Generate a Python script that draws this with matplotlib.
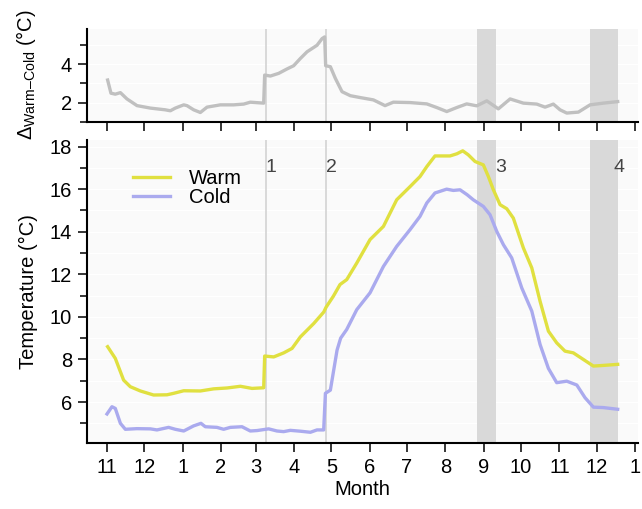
"""Warm vs cold temperature series with the Warm-Cold difference panel on top."""
import numpy as np
import matplotlib; matplotlib.use("Agg"); import matplotlib.pyplot as plt
from matplotlib.ticker import MultipleLocator

plt.rcParams["font.family"] = ["Liberation Sans", "DejaVu Sans"]
plt.rcParams["mathtext.fontset"] = "custom"; plt.rcParams["mathtext.rm"] = "Liberation Sans"

# x = days since 1 Nov; ticks at the first of each month
month_starts = [0, 30, 61, 92, 120, 151, 181, 212, 242, 273, 304, 334, 365, 395, 426]
month_labels = ["11", "12", "1", "2", "3", "4", "5", "6", "7", "8", "9", "10", "11", "12", "1"]

warm_day = [0.5, 6.7, 13.4, 18.8, 26.9, 37.6, 48.4, 53.8, 61.9, 75.3, 86.1, 96.8, 107.6, 117, 126.4,
            127.2, 134.5, 142.6, 149.3, 156, 166.8, 174.9, 176.7, 182.6, 188, 193.4, 201.5, 212.2, 223,
            233.7, 244.5, 252.5, 258, 264.6, 276.7, 282.2, 287, 291.5, 296.9, 303.6, 307.7, 311.7, 317.1,
            322.5, 327.8, 335.9, 342.7, 349.4, 356.1, 362.8, 369.5, 376.2, 384.3, 392.4, 400.4, 412]
warm_temp = [8.6, 8.05, 7.03, 6.72, 6.52, 6.33, 6.34, 6.41, 6.53, 6.52, 6.62, 6.66, 6.74, 6.64, 6.67,
             8.16, 8.12, 8.31, 8.52, 9.06, 9.69, 10.23, 10.45, 10.97, 11.52, 11.75, 12.53, 13.63, 14.25,
             15.5, 16.12, 16.59, 17.06, 17.56, 17.56, 17.66, 17.8, 17.61, 17.3, 17.14, 16.59, 15.97, 15.27,
             15.08, 14.64, 13.24, 12.3, 10.73, 9.33, 8.78, 8.39, 8.31, 8.0, 7.69, 7.72, 7.77]

cold_day = [0, 4, 6.7, 10.8, 14.8, 24.2, 35, 40.3, 49.7, 55.1, 61.9, 69.9, 75.8, 79.3, 88.7, 94.1, 99.5,
            108.9, 115.6, 121, 130.4, 137.1, 142.5, 147.9, 156, 164.1, 169.4, 174.8, 176.2, 180.2, 185.6,
            188.5, 193.4, 201.5, 212.2, 223, 233.7, 244.5, 252.5, 258, 264.6, 274, 279.4, 284.8, 290.5,
            295.5, 303.6, 309, 314.4, 319.8, 326.5, 334.6, 342.7, 349.4, 356.1, 362.8, 370.9, 379, 385.7,
            392.4, 400.4, 412]
cold_temp = [5.44, 5.78, 5.7, 5.0, 4.72, 4.75, 4.74, 4.69, 4.81, 4.72, 4.64, 4.88, 5.0, 4.84, 4.81, 4.72, 4.81,
             4.84, 4.64, 4.66, 4.74, 4.64, 4.61, 4.67, 4.63, 4.58, 4.69, 4.69, 6.41, 6.56, 8.44,
             9.0, 9.41, 10.34, 11.13, 12.37, 13.31, 14.1, 14.72, 15.35, 15.82, 16.0, 15.94, 15.97, 15.74,
             15.5, 15.19, 14.8, 14.02, 13.39, 12.77, 11.36, 10.27, 8.7, 7.58, 6.91, 6.98, 6.8, 6.2,
             5.76, 5.74, 5.66]

diff_day = [0.5, 3.2, 6.7, 10.8, 16.1, 24.2, 35, 47, 51.1, 55.1, 61.9, 64.5, 69.9, 75.3, 80.7, 91.4, 102.2,
            110.3, 115.6, 126.4, 127.2, 131.8, 138.5, 145.2, 150.6, 156, 161.4, 169.4, 173.5, 175.6, 176.4,
            180.2, 184.2, 189.6, 196.3, 204.4, 214.9, 224.3, 231, 244.5, 258, 266, 274.1, 282.2, 290.2,
            298.3, 306.4, 315.7, 325.2, 335.9, 346.7, 353.4, 360.1, 365.5, 370.9, 380.3, 389.7, 400.4, 412]
diff_val = [3.18, 2.49, 2.44, 2.52, 2.19, 1.84, 1.71, 1.62, 1.57, 1.71, 1.88, 1.84, 1.62, 1.48, 1.76, 1.88, 1.88,
            1.92, 2.02, 1.97, 3.44, 3.39, 3.53, 3.76, 3.93, 4.31, 4.66, 5.0, 5.35, 5.44, 3.93,
            3.88, 3.27, 2.57, 2.36, 2.26, 2.14, 1.84, 2.02, 2.0, 1.93, 1.74, 1.53, 1.74, 1.93,
            1.83, 2.09, 1.67, 2.19, 1.97, 1.92, 1.76, 1.92, 1.62, 1.45, 1.5, 1.88, 1.97, 2.05]

event_lines = [127.9, 176.7]          # events 1, 2
event_bands = [(298.3, 313.9), (389.7, 412.1)]   # events 3, 4
event_labels = ["1", "2", "3", "4"]
label_x = [127.9, 176.7, 313.0, 408.3]

WARM, COLD, GREY = "#e0e040", "#aaaaee", "#c0c0c0"
fig = plt.figure(figsize=(6.42, 5.09), dpi=100)
axt = fig.add_axes([0.135, 0.761, 0.859, 0.183])
axb = fig.add_axes([0.135, 0.129, 0.859, 0.596])

for ax in (axt, axb):
    ax.set_facecolor("#fafafa"); ax.set_axisbelow(True)
    for x in event_lines: ax.axvline(x, color="#d3d3d3", lw=1.2, zorder=1)
    for a, b in event_bands: ax.axvspan(a, b, color="#d9d9d9", lw=0, zorder=1)
    ax.yaxis.set_minor_locator(MultipleLocator(1))
    ax.grid(True, which="both", axis="y", color="white", lw=1)
    ax.set_xlim(-16.4, 428.5); ax.set_xticks(month_starts)
    for s in ("top", "right"): ax.spines[s].set_visible(False)
    for s in ("left", "bottom"): ax.spines[s].set_linewidth(1.5)
    ax.tick_params(which="major", length=6.5, width=1.1, labelsize=14.5, pad=4)
    ax.tick_params(which="minor", length=5, width=1.1)
    ax.yaxis.set_label_coords(-0.088, 0.5)

axt.plot(diff_day, diff_val, color=GREY, lw=2.4, solid_joinstyle="round", zorder=3)
axt.set_ylim(1.0, 5.88); axt.set_yticks([2, 4]); axt.set_xticklabels([])
axt.set_ylabel(r"$\mathregular{\Delta_{Warm–Cold}}$ (°C)", fontsize=14.5)

axb.plot(warm_day, warm_temp, color=WARM, lw=2.4, label="Warm", solid_joinstyle="round", zorder=3)
axb.plot(cold_day, cold_temp, color=COLD, lw=2.4, label="Cold", solid_joinstyle="round", zorder=3)
axb.set_ylim(4.06, 18.31); axb.set_yticks([6, 8, 10, 12, 14, 16, 18])
axb.set_xticklabels(month_labels)
axb.set_xlabel("Month", fontsize=14.5, labelpad=2)
axb.set_ylabel("Temperature (°C)", fontsize=14.5)
for x, t in zip(label_x, event_labels):
    axb.text(x, 17.0, t, fontsize=14, color="#444444", ha="left", va="center", zorder=4)
axb.legend(loc="upper left", bbox_to_anchor=(0.084, 0.905), frameon=False, fontsize=14.5,
           handlelength=1.85, handletextpad=0.95, labelspacing=0.02, borderpad=0, borderaxespad=0)

fig.savefig("out.png", dpi=100)
